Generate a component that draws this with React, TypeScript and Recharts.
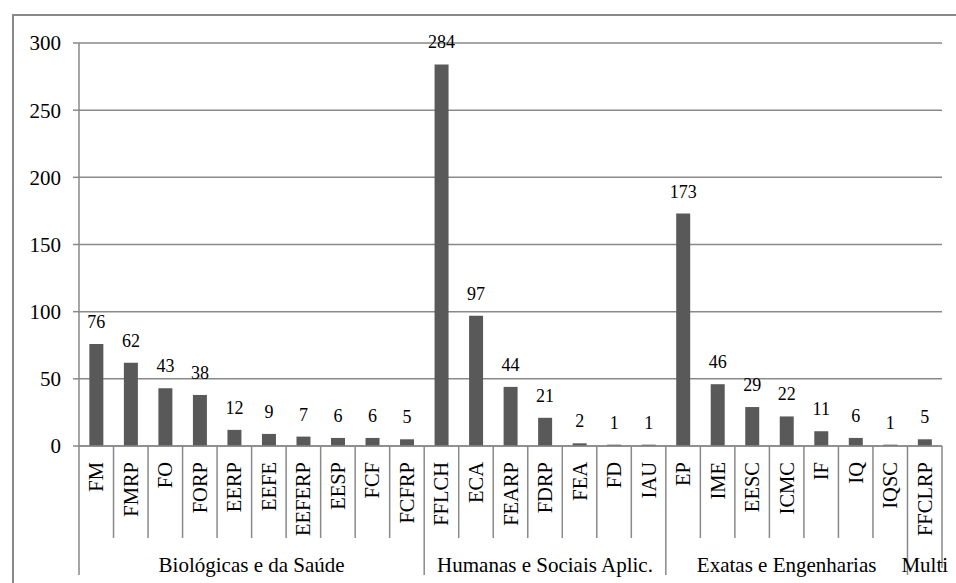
import React from 'react';
import {
    BarChart,
    Bar,
    XAxis,
    YAxis,
    CartesianGrid,
    LabelList,
} from 'recharts';

// schools, grouped by area, and how many records each one has
const schools = [
    'FM', 'FMRP', 'FO', 'FORP', 'EERP', 'EEFE', 'EEFERP', 'EESP', 'FCF', 'FCFRP',
    'FFLCH', 'ECA', 'FEARP', 'FDRP', 'FEA', 'FD', 'IAU',
    'EP', 'IME', 'EESC', 'ICMC', 'IF', 'IQ', 'IQSC',
    'FFCLRP',
];
const counts = [
    76, 62, 43, 38, 12, 9, 7, 6, 6, 5,
    284, 97, 44, 21, 2, 1, 1,
    173, 46, 29, 22, 11, 6, 1,
    5,
];
const areas = ['Biológicas e da Saúde', 'Humanas e Sociais Aplic.', 'Exatas e Engenharias', 'Multi'];
const areaSizes = [10, 7, 7, 1];
const yTicks = [0, 50, 100, 150, 200, 250, 300];

const data = schools.map((school, i) => ({ school, count: counts[i] }));

// first index of every area
const areaStarts: number[] = [];
areaSizes.reduce((acc, n) => {
    areaStarts.push(acc);
    return acc + n;
}, 0);

const WIDTH = 956;
const HEIGHT = 583;
const LEFT = 79;
const RIGHT = 14;
const BAND = (WIDTH - LEFT - RIGHT) / schools.length;
const FONT = 'Liberation Serif';
const LINE = '#898989';

const SchoolTick = (props: any) => {
    const { x, y, payload } = props;
    const i = payload.index;
    const left = x - BAND / 2;
    const right = x + BAND / 2;
    const area = areaStarts.indexOf(i);
    const isLast = i === schools.length - 1;

    return (
        <g>
            <line x1={left} x2={left} y1={y} y2={y + (area >= 0 ? 129 : 92)} stroke={LINE} strokeWidth={1.5} />
            {isLast && (
                <line x1={right} x2={right} y1={y} y2={y + 122} stroke={LINE} strokeWidth={1.5} />
            )}
            <text
                x={x}
                y={y + 16}
                transform={`rotate(-90, ${x}, ${y + 16})`}
                textAnchor='end'
                dominantBaseline='central'
                style={{ fontFamily: FONT, fontSize: 20.5 }}
                fill='#000'
            >
                {payload.value}
            </text>
            {area >= 0 && (
                <text
                    x={left + (areaSizes[area] * BAND) / 2}
                    y={y + 126}
                    textAnchor='middle'
                    style={{ fontFamily: FONT, fontSize: 21 }}
                    fill='#000'
                >
                    {areas[area]}
                </text>
            )}
        </g>
    );
};

const App: React.FC = () => {
    return (
        <div style={{ position: 'absolute', left: 0, top: 0, width: WIDTH, height: HEIGHT, background: '#fff', fontFamily: FONT }}>
            <div
                style={{
                    position: 'absolute',
                    left: 12,
                    top: 14,
                    width: WIDTH - 12,
                    height: HEIGHT - 14,
                    borderLeft: `2px solid ${LINE}`,
                    borderTop: `2px solid ${LINE}`,
                    boxSizing: 'border-box',
                }}
            />
            <BarChart
                width={WIDTH}
                height={HEIGHT}
                data={data}
                margin={{ top: 43, right: RIGHT, bottom: 0, left: 0 }}
                barCategoryGap='30%'
                style={{ position: 'absolute', left: 0, top: 0, fontFamily: FONT }}
            >
                <CartesianGrid vertical={false} stroke={LINE} strokeWidth={1.5} />
                <XAxis
                    dataKey='school'
                    interval={0}
                    height={137}
                    tickLine={false}
                    tickSize={0}
                    tickMargin={0}
                    axisLine={{ stroke: LINE, strokeWidth: 1.5 }}
                    tick={<SchoolTick />}
                />
                <YAxis
                    width={LEFT}
                    domain={[0, 300]}
                    ticks={yTicks}
                    interval={0}
                    tickSize={6}
                    tickMargin={12}
                    axisLine={{ stroke: LINE, strokeWidth: 1.5 }}
                    tickLine={{ stroke: LINE, strokeWidth: 1.5 }}
                    tick={{ style: { fontFamily: FONT }, fontSize: 21, fill: '#000' }}
                />
                <Bar dataKey='count' fill='#595959' isAnimationActive={false}>
                    <LabelList
                        dataKey='count'
                        position='top'
                        offset={16}
                        style={{ fontFamily: FONT, fontSize: 18, fill: '#000' }}
                    />
                </Bar>
            </BarChart>
        </div>
    );
};

export default App;
